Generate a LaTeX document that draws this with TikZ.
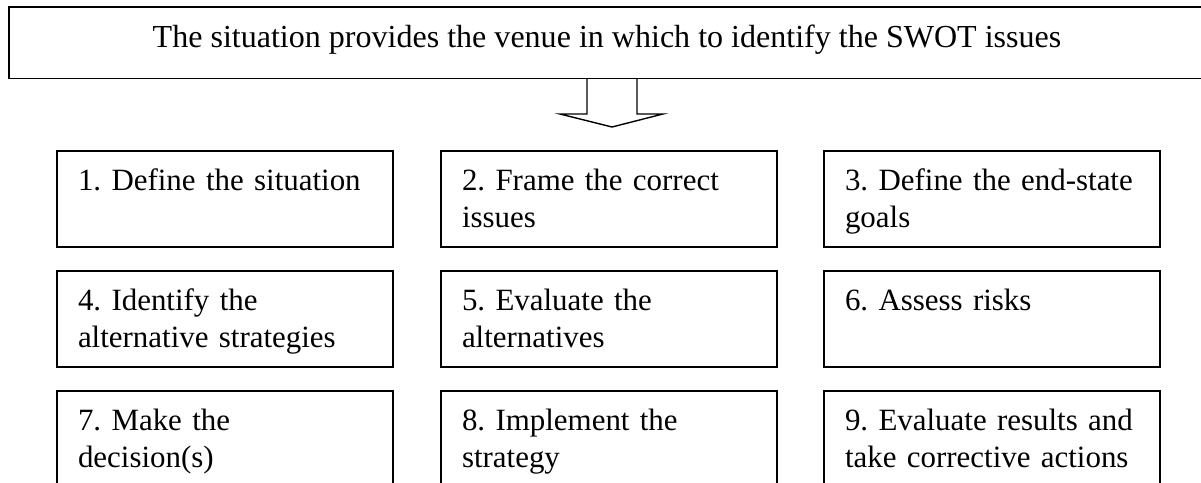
\documentclass[tikz,border=0pt]{standalone}
\usepackage{fontspec}
\setmainfont{Liberation Serif}
\frenchspacing

\begin{document}
\begin{tikzpicture}[x=0.3636pt, y=-0.3636pt,
    every node/.style={font=\fontsize{11.65}{13.45}\selectfont},
    stepbox/.style={draw, line width=0.6pt, text width=106.9pt, align=left,
        font=\fontsize{11.25}{13.45}\selectfont,
        inner xsep=7.6pt, inner ysep=3pt, text height=11.2pt, text depth=17.7pt}]
            \useasboundingbox (0,0) rectangle (1201,482);
            % situation box, runs off the right edge
            \node [draw, line width=0.6pt, minimum width=434.9pt, minimum height=26pt,
                   text height=8pt, text depth=4.9pt] (venue) at (607,42.75)
                  {The situation provides the venue in which to identify the SWOT issues};
            % hollow arrow down
            \coordinate (arrowtop) at (612,79);
            \draw [line width=0.5pt] (arrowtop) ++(-25,0) -- ++(0,35) -- ++(-27,0) -- ++(52,13)
                  -- ++(51,-13) -- ++(-26,0) -- ++(0,-35);
            % the nine steps
            \node [stepbox] (S1) at (225,199) {1. Define the situation};
            \node [stepbox] (S2) at (609,199) {2. Frame the correct\\issues};
            \node [stepbox] (S3) at (992,199) {3. Define the end-state\\goals};
            \node [stepbox] (S4) at (225,319) {4. Identify the\\alternative strategies};
            \node [stepbox] (S5) at (609,319) {5. Evaluate the\\alternatives};
            \node [stepbox] (S6) at (992,319) {6. Assess risks};
            \node [stepbox] (S7) at (225,439) {7. Make the\\decision(s)};
            \node [stepbox] (S8) at (609,439) {8. Implement the\\strategy};
            \node [stepbox] (S9) at (992,439) {9. Evaluate results and\\take corrective actions};
        \end{tikzpicture}
\end{document}
